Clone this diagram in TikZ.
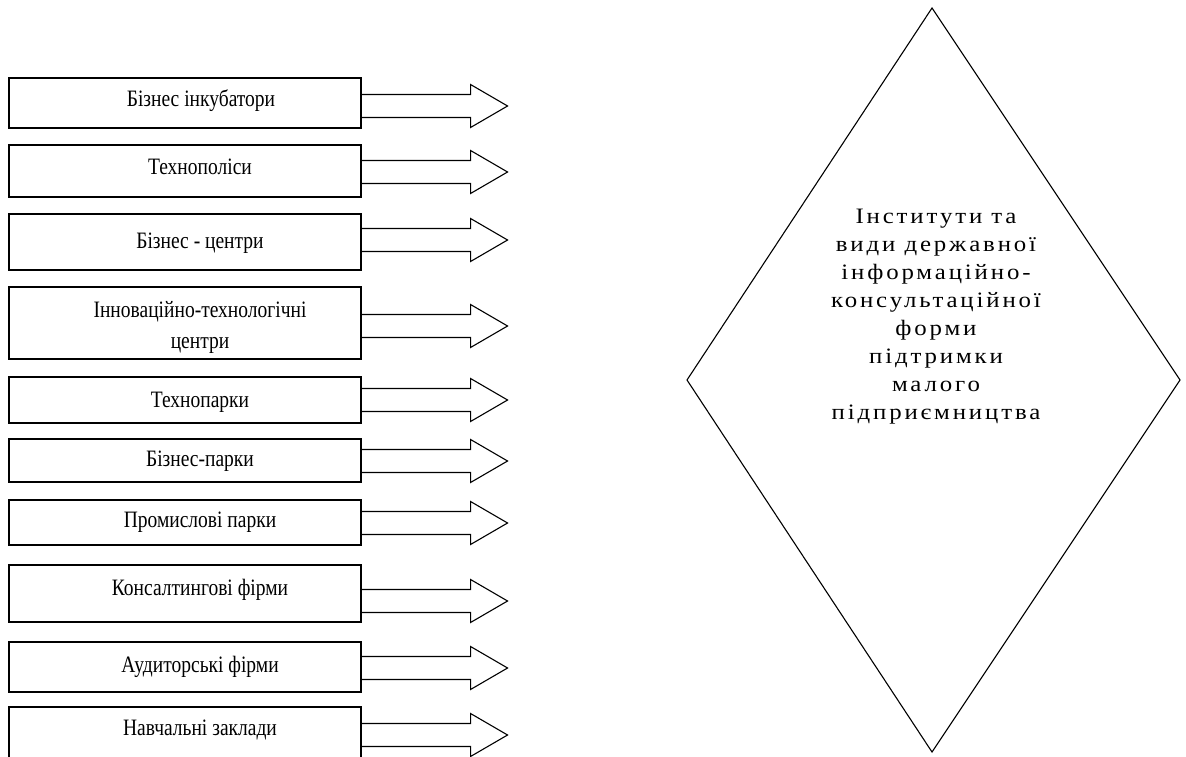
\documentclass[tikz,border=0pt]{standalone}
\usepackage{fontspec}
\setmainfont{Liberation Serif}
\newfontfamily\boxfont[FakeStretch=0.83]{Liberation Serif}
\newfontfamily\spacedfont[FakeStretch=1.13,LetterSpace=13]{Liberation Serif}
\tikzset{
  box/.style={draw, line width=1.1pt, minimum width=352pt, inner sep=0pt},
  barrow/.style={draw, line width=1.1pt, line join=miter},
  lbl/.style={font=\boxfont\fontsize{23.5}{31}\selectfont, inner sep=0pt, align=center, anchor=base},
  pics/blockarr/.style={code={
    \draw[barrow] (0,-11.5) -- (109,-11.5) -- (109,-21.5) -- (146,0) -- (109,21.5) -- (109,11.5) -- (0,11.5);
  }},
}
\begin{document}
\begin{tikzpicture}[x=1pt,y=-1pt]
\useasboundingbox (0,0) rectangle (1186,757);
\fill[white] (0,0) rectangle (1186,757);
% boxes
\node[box, minimum height=50pt] (b1) at (185,103) {};
\node[box, minimum height=52pt] (b2) at (185,171) {};
\node[box, minimum height=56pt] (b3) at (185,242) {};
\node[box, minimum height=72pt] (b4) at (185,323) {};
\node[box, minimum height=46pt] (b5) at (185,400) {};
\node[box, minimum height=43pt] (b6) at (185,460.5) {};
\node[box, minimum height=45pt] (b7) at (185,522.5) {};
\node[box, minimum height=57pt] (b8) at (185,593.5) {};
\node[box, minimum height=50pt] (b9) at (185,667) {};
\node[box, minimum height=60pt] (b10) at (185,737) {};
% texts
\node[lbl] (t1) at (201,107) {Бізнес інкубатори};
\node[lbl] (t2) at (200,175) {Технополіси};
\node[lbl] (t3) at (200,248) {Бізнес - центри};
\node[lbl] (t4a) at (200,317) {Інноваційно-технологічні};
\node[lbl] (t4b) at (200,348) {центри};
\node[lbl] (t5) at (200,407) {Технопарки};
\node[lbl] (t6) at (200,466) {Бізнес-парки};
\node[lbl] (t7) at (200,527) {Промислові парки};
\node[lbl] (t8) at (200,595) {Консалтингові фірми};
\node[lbl] (t9) at (200,672) {Аудиторські фірми};
\node[lbl] (t10) at (200,735) {Навчальні заклади};
% arrows
\pic at (b1.east |- {(0,106)}) {blockarr};
\pic at (b2.east |- {(0,172)}) {blockarr};
\pic at (b3.east |- {(0,240)}) {blockarr};
\pic at (b4.east |- {(0,326)}) {blockarr};
\pic at (b5.east |- {(0,400)}) {blockarr};
\pic at (b6.east |- {(0,461)}) {blockarr};
\pic at (b7.east |- {(0,523)}) {blockarr};
\pic at (b8.east |- {(0,601)}) {blockarr};
\pic at (b9.east |- {(0,668)}) {blockarr};
\pic at (b10.east |- {(0,735)}) {blockarr};
% diamond
\coordinate (dt) at (932,8);
\coordinate (dr) at (1180,380);
\coordinate (db) at (932,752);
\coordinate (dl) at (687,380);
\draw[line width=1.1pt, line join=miter] (dt) -- (dr) -- (db) -- (dl) -- cycle;
\node[font=\spacedfont\fontsize{22}{28}\selectfont, align=center, inner sep=0pt, anchor=base] (dtext) at (936,419)
 {Інститути та\\види державної\\інформаційно-\\консультаційної\\форми\\підтримки\\малого\\підприємництва};
\end{tikzpicture}
\end{document}
